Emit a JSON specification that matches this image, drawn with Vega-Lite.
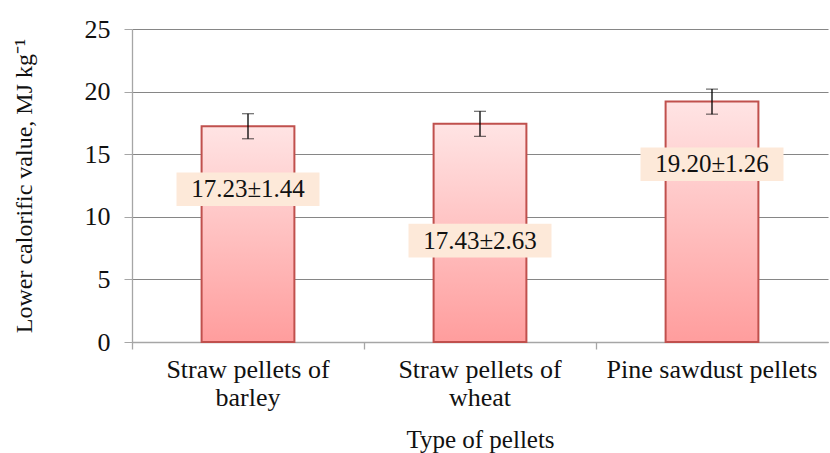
{
  "$schema": "https://vega.github.io/schema/vega-lite/v6.json",
  "width": 696,
  "height": 313,
  "autosize": "none",
  "padding": {"left": 132, "top": 29, "right": 2, "bottom": 111},
  "background": "white",
  "config": {
    "view": {"stroke": null},
    "font": "Liberation Serif"
  },
  "data": {
    "values": [
      {"type": "Straw pellets of barley", "value": 17.23, "low": 16.23, "high": 18.23, "label": "17.23±1.44", "labelY": 12.2},
      {"type": "Straw pellets of wheat", "value": 17.43, "low": 16.43, "high": 18.43, "label": "17.43±2.63", "labelY": 8.1},
      {"type": "Pine sawdust pellets", "value": 19.2, "low": 18.2, "high": 20.2, "label": "19.20±1.26", "labelY": 14.2}
    ]
  },
  "encoding": {
    "x": {
      "field": "type",
      "type": "nominal",
      "sort": null,
      "axis": null,
      "scale": {"paddingInner": 0, "paddingOuter": 0}
    }
  },
  "resolve": {"axis": {"x": "independent"}},
  "layer": [
    {
      "mark": {
        "type": "bar",
        "width": {"band": 0.4},
        "fill": {
          "gradient": "linear",
          "x1": 0, "y1": 0, "x2": 0, "y2": 1,
          "stops": [
            {"offset": 0, "color": "#FFE4E4"},
            {"offset": 1, "color": "#FF9D9D"}
          ]
        },
        "stroke": "#C0504D",
        "strokeWidth": 2
      },
      "encoding": {
        "x": {
          "field": "type",
          "type": "nominal",
          "sort": null,
          "axis": {
            "orient": "bottom",
            "title": "Type of pellets",
            "titleFont": "Liberation Serif",
            "titleFontSize": 25,
            "titleFontWeight": "normal",
            "titleColor": "#111",
            "titlePadding": 17,
            "labelAngle": 0,
            "labelFont": "Liberation Serif",
            "labelFontSize": 26,
            "labelColor": "#111",
            "labelLineHeight": 28,
            "labelPadding": 14,
            "labelLimit": 0,
            "labelExpr": "indexof(datum.label, ' of ') > 0 ? [slice(datum.label, 0, indexof(datum.label, ' of ') + 3), slice(datum.label, indexof(datum.label, ' of ') + 4)] : datum.label",
            "ticks": false,
            "domainColor": "#A6A6A6",
            "domainWidth": 1.3
          }
        },
        "y": {
          "field": "value",
          "type": "quantitative",
          "title": "Lower calorific value, MJ kg⁻¹",
          "scale": {"domain": [0, 25], "nice": false},
          "axis": {
            "titleFont": "Liberation Serif",
            "titleFontSize": 24,
            "titleFontWeight": "normal",
            "titleColor": "#111",
            "titlePadding": 48,
            "values": [0, 5, 10, 15, 20, 25],
            "labelFont": "Liberation Serif",
            "labelFontSize": 26,
            "labelColor": "#111",
            "labelPadding": 14,
            "tickSize": 8,
            "tickColor": "#A6A6A6",
            "domainColor": "#A6A6A6",
            "domainWidth": 1.3,
            "gridColor": "#868686",
            "gridWidth": 1.2
          }
        }
      }
    },
    {
      "mark": {
        "type": "errorbar",
        "color": "black",
        "ticks": {"size": 12, "color": "black", "strokeWidth": 1.3},
        "rule": {"color": "black", "strokeWidth": 1.3}
      },
      "encoding": {
        "y": {"field": "low", "type": "quantitative", "title": "Lower calorific value, MJ kg⁻¹"},
        "y2": {"field": "high"}
      }
    },
    {
      "mark": {
        "type": "point",
        "shape": "M-1,-0.235L1,-0.235L1,0.235L-1,0.235Z",
        "filled": true,
        "fill": "#FDE9D9",
        "opacity": 1,
        "strokeWidth": 0,
        "size": 20449
      },
      "encoding": {
        "x": {
          "field": "type",
          "type": "nominal",
          "sort": null,
          "axis": {
            "orient": "bottom",
            "title": null,
            "labels": false,
            "domain": false,
            "grid": false,
            "bandPosition": 0,
            "ticks": true,
            "tickSize": 7,
            "tickColor": "#A6A6A6",
            "tickWidth": 1.3
          }
        },
        "y": {"field": "labelY", "type": "quantitative", "title": "Lower calorific value, MJ kg⁻¹"}
      }
    },
    {
      "mark": {
        "type": "text",
        "font": "Liberation Serif",
        "fontSize": 25,
        "color": "#111"
      },
      "encoding": {
        "y": {"field": "labelY", "type": "quantitative", "title": "Lower calorific value, MJ kg⁻¹"},
        "text": {"field": "label"}
      }
    }
  ]
}
